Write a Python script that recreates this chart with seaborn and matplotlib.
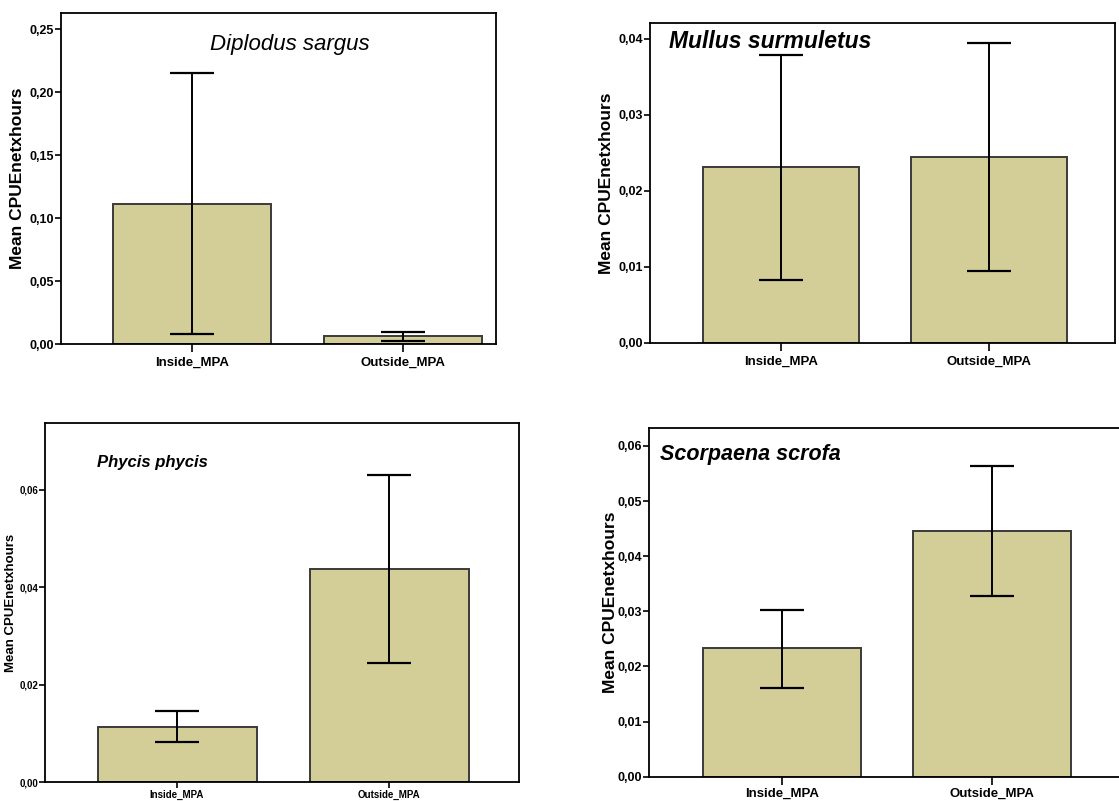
import matplotlib
matplotlib.use("Agg")
import matplotlib.pyplot as plt
import seaborn as sns
import pandas as pd
from matplotlib.ticker import FuncFormatter, MultipleLocator

sns.set_style("ticks")
plt.rcParams["font.family"] = ["Liberation Sans", "DejaVu Sans"]
plt.rcParams["text.color"] = "black"
plt.rcParams["axes.labelcolor"] = "black"
plt.rcParams["xtick.color"] = "black"
plt.rcParams["ytick.color"] = "black"

# Sites compared in every panel
sites = ["Inside_MPA", "Outside_MPA"]

# Mean CPUE per net x hours with lower / upper error limits, per species
diplodus_mean = [0.1113, 0.0066]
diplodus_low = [0.0082, 0.0026]
diplodus_high = [0.2148, 0.0098]

mullus_mean = [0.0231, 0.0245]
mullus_low = [0.0083, 0.0095]
mullus_high = [0.0378, 0.0394]

phycis_mean = [0.0114, 0.0438]
phycis_low = [0.0083, 0.0245]
phycis_high = [0.0147, 0.0631]

scorpaena_mean = [0.0233, 0.0445]
scorpaena_low = [0.0161, 0.0328]
scorpaena_high = [0.0303, 0.0564]

BAR_COLOR = "#D3CE97"
EDGE_COLOR = "#3A3A3A"

fig = plt.figure(figsize=(11.19, 8.01), dpi=100)

panels = [
    dict(name="Diplodus sargus", mean=diplodus_mean, low=diplodus_low, high=diplodus_high,
         pos=[0.0545, 0.5705, 0.3887, 0.4132], xlim=(-0.62, 1.44), ylim=0.2627, step=0.05,
         tick_fs=9, xtick_fs=9.5, xpad=3, xlen=6, label_fs=12.5, label_x=-0.083,
         title_xy=(0.525, 0.905), title_ha="center", title_fs=16, title_w="normal"),
    dict(name="Mullus surmuletus", mean=mullus_mean, low=mullus_low, high=mullus_high,
         pos=[0.5809, 0.5718, 0.4155, 0.3999], xlim=(-0.63, 1.606), ylim=0.0421, step=0.01,
         tick_fs=9, xtick_fs=9.5, xpad=3, xlen=6, label_fs=12.5, label_x=-0.077,
         title_xy=(0.04, 0.94), title_ha="left", title_fs=16.5, title_w="bold"),
    dict(name="Phycis phycis", mean=phycis_mean, low=phycis_low, high=phycis_high,
         pos=[0.0402, 0.0231, 0.4236, 0.4492], xlim=(-0.623, 1.613), ylim=0.0738, step=0.02,
         tick_fs=7, xtick_fs=7, xpad=1, xlen=4, label_fs=9.5, label_x=-0.058,
         title_xy=(0.11, 0.89), title_ha="left", title_fs=12, title_w="bold"),
    dict(name="Scorpaena scrofa", mean=scorpaena_mean, low=scorpaena_low, high=scorpaena_high,
         pos=[0.5800, 0.0303, 0.4343, 0.4350], xlim=(-0.633, 1.681), ylim=0.0632, step=0.01,
         tick_fs=9, xtick_fs=9.5, xpad=2, xlen=6, label_fs=12.5, label_x=-0.064,
         title_xy=(0.022, 0.925), title_ha="left", title_fs=15.5, title_w="bold"),
]

comma_fmt = FuncFormatter(lambda v, _: f"{v:.2f}".replace(".", ","))

for p in panels:
    ax = fig.add_axes(p["pos"])
    df = pd.DataFrame({"site": sites, "cpue": p["mean"]})
    sns.barplot(data=df, x="site", y="cpue", order=sites, color=BAR_COLOR,
                saturation=1, width=0.75, edgecolor=EDGE_COLOR, linewidth=1.4,
                errorbar=None, ax=ax)
    yerr = [[m - lo for m, lo in zip(p["mean"], p["low"])],
            [hi - m for m, hi in zip(p["mean"], p["high"])]]
    ax.errorbar(range(len(sites)), p["mean"], yerr=yerr, fmt="none",
                ecolor="black", elinewidth=1.4, capsize=16, capthick=1.6, zorder=5)

    ax.set_xlim(*p["xlim"])
    ax.set_ylim(0, p["ylim"])
    ax.yaxis.set_major_locator(MultipleLocator(p["step"]))
    ax.yaxis.set_major_formatter(comma_fmt)

    for side in ["top", "right", "left", "bottom"]:
        ax.spines[side].set_visible(True)
        ax.spines[side].set_color("black")
        ax.spines[side].set_linewidth(1.3)

    ax.tick_params(axis="y", direction="out", length=4, width=1.2, pad=1,
                   labelsize=p["tick_fs"])
    ax.tick_params(axis="x", direction="out", length=p["xlen"], width=1.2,
                   pad=p["xpad"], labelsize=p["xtick_fs"])
    for lab in ax.get_yticklabels() + ax.get_xticklabels():
        lab.set_fontweight("bold")

    ax.set_xlabel("")
    ax.set_ylabel("Mean CPUEnetxhours", fontsize=p["label_fs"], fontweight="bold")
    ax.yaxis.set_label_coords(p["label_x"], 0.5)

    ax.text(p["title_xy"][0], p["title_xy"][1], p["name"], transform=ax.transAxes,
            ha=p["title_ha"], va="center", fontsize=p["title_fs"],
            fontstyle="italic", fontweight=p["title_w"])

fig.savefig("out.png", dpi=100, facecolor="white")
